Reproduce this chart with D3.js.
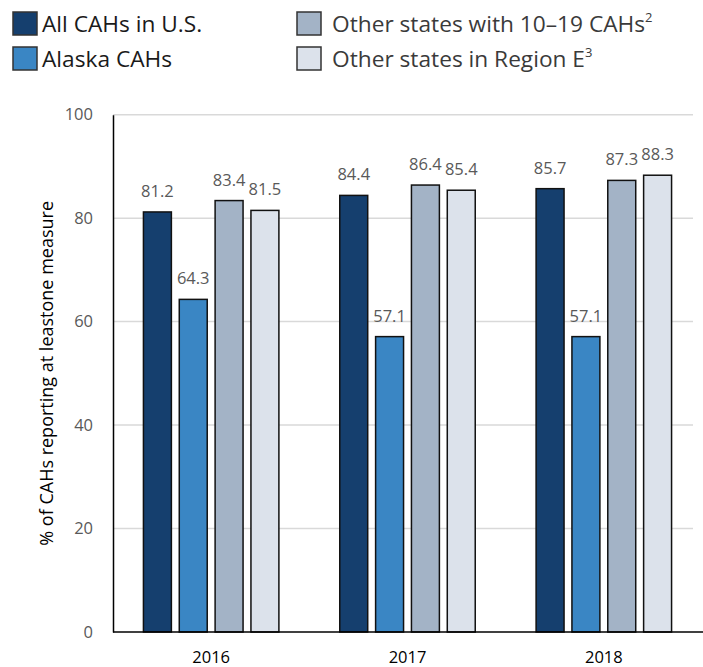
<!DOCTYPE html>
<html>
<head>
<meta charset="utf-8">
<script src="https://cdn.jsdelivr.net/npm/d3@7"></script>
<style>
  body { margin: 0; background: #fff; }
  text { font-family: "Open Sans", sans-serif; }
</style>
</head>
<body>
<div id="chart"></div>
<script>
// Chart data
var years = ["2016", "2017", "2018"];
var seriesNames = ["All CAHs in U.S.", "Alaska CAHs", "Other states with 10\u201319 CAHs", "Other states in Region E"];
var seriesSup = ["", "", "2", "3"];
var allUS = [81.2, 84.4, 85.7];
var alaska = [64.3, 57.1, 57.1];
var otherStates = [83.4, 86.4, 87.3];
var regionE = [81.5, 85.4, 88.3];
var yTicks = [0, 20, 40, 60, 80, 100];
var colors = ["#153f6e", "#3a86c4", "#a3b3c6", "#dce2eb"];

var width = 703, height = 667;
var margin = {top: 114.7, right: 1, bottom: 35, left: 113};

var svg = d3.select("#chart").append("svg")
  .attr("width", width)
  .attr("height", height);

var seriesValues = [allUS, alaska, otherStates, regionE];
var data = years.map(function(y, i) {
  return {year: y, values: seriesValues.map(function(s, k) { return {key: k, value: s[i]}; })};
});

var x0 = d3.scaleBand().domain(years)
  .range([margin.left, width - margin.right])
  .paddingInner(0.31).paddingOuter(0.155);
var x1 = d3.scaleBand().domain(d3.range(seriesNames.length))
  .range([0, x0.bandwidth()])
  .paddingInner(0.22);
var y = d3.scaleLinear().domain([0, 100]).range([height - margin.bottom, margin.top]);

// gridlines
svg.append("g").selectAll("line")
  .data(yTicks.filter(function(d) { return d > 0; }))
  .enter().append("line")
  .attr("x1", margin.left).attr("x2", 693)
  .attr("y1", function(d) { return y(d); })
  .attr("y2", function(d) { return y(d); })
  .attr("stroke", "#d9d9d9").attr("stroke-width", 1.5);

// y axis
var yAxis = svg.append("g")
  .attr("transform", "translate(" + margin.left + ",0)")
  .call(d3.axisLeft(y).tickValues(yTicks).tickSize(0).tickPadding(20));
yAxis.select(".domain").attr("stroke", "#000").attr("stroke-width", 1.5);
yAxis.selectAll(".tick text")
  .attr("fill", "#595959").style("font-size", "16.5px");

// bars
var group = svg.selectAll(".year")
  .data(data)
  .enter().append("g")
  .attr("class", "year")
  .attr("transform", function(d) { return "translate(" + x0(d.year) + ",0)"; });

group.selectAll("rect")
  .data(function(d) { return d.values; })
  .enter().append("rect")
  .attr("x", function(d) { return x1(d.key); })
  .attr("y", function(d) { return y(d.value); })
  .attr("width", x1.bandwidth())
  .attr("height", function(d) { return y(0) - y(d.value); })
  .attr("fill", function(d) { return colors[d.key]; })
  .attr("stroke", "#111").attr("stroke-width", 1.5);

group.selectAll(".val")
  .data(function(d) { return d.values; })
  .enter().append("text")
  .attr("class", "val")
  .attr("x", function(d) { return x1(d.key) + x1.bandwidth() / 2; })
  .attr("y", function(d) { return y(d.value) - 15; })
  .attr("text-anchor", "middle")
  .attr("fill", "#595959")
  .style("font-size", "16.5px")
  .text(function(d) { return d.value.toFixed(1); });

// x axis
var xAxis = svg.append("g")
  .attr("transform", "translate(0," + y(0) + ")")
  .call(d3.axisBottom(x0).tickSize(0).tickPadding(19));
xAxis.select(".domain").attr("d", "M" + margin.left + ",0H" + width).attr("stroke", "#000").attr("stroke-width", 1.5);
xAxis.selectAll(".tick text").attr("fill", "#000").style("font-size", "16.5px");

// y axis title
svg.append("text")
  .attr("transform", "translate(53," + ((y(0) + y(100)) / 2) + ") rotate(-90)")
  .attr("text-anchor", "middle")
  .attr("fill", "#000")
  .style("font-size", "18px")
  .text("% of CAHs reporting at leastone measure");

// legend
var legendPos = [[13, 12], [13, 47], [297, 12], [297, 47]];
var legend = svg.selectAll(".legend")
  .data(seriesNames)
  .enter().append("g")
  .attr("class", "legend")
  .attr("transform", function(d, i) { return "translate(" + legendPos[i][0] + "," + legendPos[i][1] + ")"; });

legend.append("rect")
  .attr("width", 24).attr("height", 23)
  .attr("fill", function(d, i) { return colors[i]; })
  .attr("stroke", "#333").attr("stroke-width", 1.5);

var lt = legend.append("text")
  .attr("x", function(d, i) { return i < 2 ? 29 : 35; })
  .attr("y", 20)
  .attr("fill", function(d, i) { return i < 2 ? "#1a1a1a" : "#3a3a3a"; })
  .style("font-size", "22.7px");
lt.append("tspan").text(function(d) { return d; });
lt.append("tspan")
  .attr("dy", -10)
  .style("font-size", "13px")
  .text(function(d, i) { return seriesSup[i]; });
</script>
</body>
</html>
